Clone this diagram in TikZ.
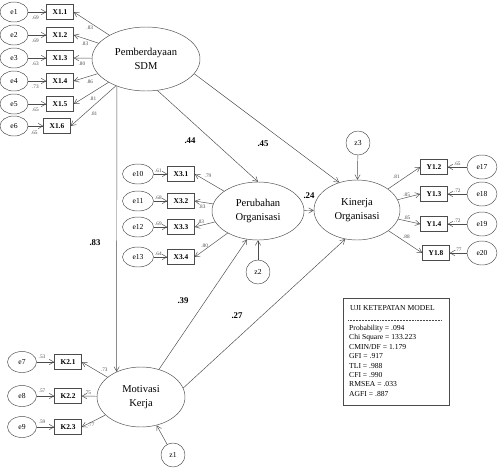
\documentclass[tikz,border=0pt]{standalone}
\usepackage{fontspec}
\setmainfont{Liberation Serif}
\usepackage{tikz}
\usetikzlibrary{positioning,arrows.meta,shapes.geometric}

\begin{document}
\begin{tikzpicture}[
x=0.03cm, y=-0.03cm,
latent/.style={draw=black!70, ellipse, align=center, inner sep=0pt, font=\fontsize{9}{12.5}\selectfont},
indic/.style={draw=black!70, rectangle, minimum width=0.81cm, minimum height=0.45cm, inner sep=0pt, font=\fontsize{6.3}{7}\selectfont\bfseries},
err/.style={draw=black!70, ellipse, minimum width=0.87cm, minimum height=0.63cm, inner sep=0pt, font=\fontsize{6.5}{7}\selectfont},
dist/.style={draw=black!70, circle, minimum size=0.72cm, inner sep=0pt, font=\fontsize{6.5}{7}\selectfont},
arrow/.style={-{Straight Barb[length=1.4mm, width=1.6mm]}, black!70, thin},
val/.style={font=\fontsize{4.5}{5}\selectfont, inner sep=0.8pt},
coef/.style={font=\fontsize{7.5}{9}\selectfont\bfseries}
]
\useasboundingbox (0,0) rectangle (502,468);

% latent variables
\node[latent, minimum width=3.24cm, minimum height=1.92cm] (pem) at (146,59) {Pemberdayaan\\SDM};
\node[latent, minimum width=2.76cm, minimum height=1.74cm] (per) at (258,211) {Perubahan\\Organisasi};
\node[latent, minimum width=2.58cm, minimum height=1.8cm] (kin) at (357,210) {Kinerja\\Organisasi};
\node[latent, minimum width=2.64cm, minimum height=1.8cm] (mot) at (141,397) {Motivasi\\Kerja};

% disturbances
\node[dist] (z1) at (173,455) {z1};
\node[dist] (z2) at (258,272) {z2};
\node[dist] (z3) at (358,143) {z3};

% indicators of Pemberdayaan SDM
\node[indic] (x11) at (60,12) {X1.1};
\node[indic] (x12) at (60,35) {X1.2};
\node[indic] (x13) at (60,58) {X1.3};
\node[indic] (x14) at (60,81) {X1.4};
\node[indic] (x15) at (60,104) {X1.5};
\node[indic] (x16) at (57,126) {X1.6};
\node[err, minimum width=0.84cm, minimum height=0.6cm] (e1) at (14,12) {e1};
\node[err, minimum width=0.84cm, minimum height=0.6cm] (e2) at (14,35) {e2};
\node[err, minimum width=0.84cm, minimum height=0.6cm] (e3) at (14,58) {e3};
\node[err, minimum width=0.84cm, minimum height=0.6cm] (e4) at (14,81) {e4};
\node[err, minimum width=0.84cm, minimum height=0.6cm] (e5) at (14,104) {e5};
\node[err, minimum width=0.84cm, minimum height=0.6cm] (e6) at (14,126) {e6};

% indicators of Perubahan Organisasi
\node[indic] (x31) at (181,174) {X3.1};
\node[indic] (x32) at (181,201) {X3.2};
\node[indic] (x33) at (181,227) {X3.3};
\node[indic] (x34) at (181,257) {X3.4};
\node[err, minimum width=0.93cm, minimum height=0.6cm] (e10) at (138,174) {e10};
\node[err, minimum width=0.93cm, minimum height=0.6cm] (e11) at (138,201) {e11};
\node[err, minimum width=0.93cm, minimum height=0.6cm] (e12) at (138,227) {e12};
\node[err, minimum width=0.93cm, minimum height=0.6cm] (e13) at (138,257) {e13};

% indicators of Kinerja Organisasi
\node[indic] (y12) at (434,167) {Y1.2};
\node[indic] (y13) at (434,194) {Y1.3};
\node[indic] (y14) at (434,224) {Y1.4};
\node[indic] (y18) at (436,253) {Y1.8};
\node[err, minimum width=0.9cm, minimum height=0.72cm] (e17) at (482,167) {e17};
\node[err, minimum width=0.9cm, minimum height=0.72cm] (e18) at (482,194) {e18};
\node[err, minimum width=0.9cm, minimum height=0.72cm] (e19) at (482,224) {e19};
\node[err, minimum width=0.9cm, minimum height=0.72cm] (e20) at (482,253) {e20};

% indicators of Motivasi Kerja
\node[indic] (k21) at (68,362) {K2.1};
\node[indic] (k22) at (68,396) {K2.2};
\node[indic] (k23) at (68,427) {K2.3};
\node[err] (e7) at (22,362) {e7};
\node[err] (e8) at (22,396) {e8};
\node[err] (e9) at (22,427) {e9};

% measurement arrows
\draw[arrow] (e1) -- node[val, pos=0.4, below=2pt] {.69} (x11);
\draw[arrow] (e2) -- node[val, pos=0.4, below=2pt] {.69} (x12);
\draw[arrow] (e3) -- node[val, pos=0.4, below=2pt] {.63} (x13);
\draw[arrow] (e4) -- node[val, pos=0.4, below=2pt] {.73} (x14);
\draw[arrow] (e5) -- node[val, pos=0.4, below=2pt] {.65} (x15);
\draw[arrow] (e6) -- node[val, pos=0.4, below=3pt] {.65} (x16);
\draw[arrow] (pem) -- node[val, pos=0.55, below=2pt] {.83} (x11.east);
\draw[arrow] (pem) -- node[val, pos=0.55, below=2pt] {.83} (x12.east);
\draw[arrow] (pem) -- node[val, pos=0.55, below=2pt] {.80} (x13.east);
\draw[arrow] (pem) -- node[val, pos=0.55, below right=1pt] {.86} (x14.east);
\draw[arrow] (pem) -- node[val, pos=0.6, below right=1pt] {.81} (x15.east);
\draw[arrow] (pem) -- node[val, pos=0.6, below right=1pt] {.81} (x16.east);

\draw[arrow] (e10) -- node[val, pos=0.35, above] {.61} (x31);
\draw[arrow] (e11) -- node[val, pos=0.35, above] {.68} (x32);
\draw[arrow] (e12) -- node[val, pos=0.35, above] {.69} (x33);
\draw[arrow] (e13) -- node[val, pos=0.35, above] {.64} (x34);
\draw[arrow] (per) -- node[val, pos=0.7, above right] {.79} (x31.east);
\draw[arrow] (per) -- node[val, pos=0.6, below=1pt] {.83} (x32.east);
\draw[arrow] (per) -- node[val, pos=0.7, above=1pt] {.83} (x33.east);
\draw[arrow] (per) -- node[val, pos=0.7, above=1pt] {.80} (x34.east);

\draw[arrow] (e17) -- node[val, pos=0.5, above] {.65} (y12);
\draw[arrow] (e18) -- node[val, pos=0.5, above] {.72} (y13);
\draw[arrow] (e19) -- node[val, pos=0.5, above] {.72} (y14);
\draw[arrow] (e20) -- node[val, pos=0.5, above] {.77} (y18);
\draw[arrow] (kin) -- node[val, pos=0.4, above left] {.81} (y12.west);
\draw[arrow] (kin) -- node[val, pos=0.4, above] {.85} (y13.west);
\draw[arrow] (kin) -- node[val, pos=0.4, above] {.85} (y14.west);
\draw[arrow] (kin) -- node[val, pos=0.4, above right] {.88} (y18.west);

\draw[arrow] (e7) -- node[val, pos=0.3, above=2pt] {.53} (k21);
\draw[arrow] (e8) -- node[val, pos=0.3, above=2pt] {.57} (k22);
\draw[arrow] (e9) -- node[val, pos=0.3, above=2pt] {.59} (k23);
\draw[arrow] (mot) -- node[val, pos=0.3, above right] {.73} (k21.east);
\draw[arrow] (mot) -- node[val, pos=0.6, above] {.75} (k22.east);
\draw[arrow] (mot) -- node[val, pos=0.6, below] {.77} (k23.east);

% structural paths
\draw[arrow] (pem.290) -- (per.north);
\draw[arrow] (pem.343) -- (kin.123);
\draw[arrow] (pem.223) -- (mot.134);
\draw[arrow] (per) -- (kin);
\draw[arrow] (mot.57) -- (per.249);
\draw[arrow] (mot.12) -- (kin.248);
\draw[arrow] (z1) -- (mot);
\draw[arrow] (z2) -- (per);
\draw[arrow] (z3) -- (kin);
\node[coef] (c44) at (190,141) {.44};
\node[coef] (c45) at (263,144) {.45};
\node[coef] (c83) at (95,243) {.83};
\node[coef] (c24) at (309,196) {.24};
\node[coef] (c39) at (183,301) {.39};
\node[coef] (c27) at (237,316) {.27};

% goodness of fit
\draw[black!70] (343,298) rectangle (449,405);
\node[anchor=west, font=\fontsize{6.5}{8}\selectfont] (fittitle) at (346,308) {UJI KETEPATAN MODEL};
\draw[black!70, dash pattern=on 0.8pt off 0.5pt] (348,320) -- (441,320);
\node[anchor=north west, align=left, inner sep=0pt, font=\fontsize{6.5}{8}\selectfont] (fitstats) at (349,325) {Probability = .094\\Chi Square = 133.223\\CMIN/DF = 1.179\\GFI = .917\\TLI = .988\\CFI = .990\\RMSEA = .033\\AGFI = .887};
\end{tikzpicture}
\end{document}
